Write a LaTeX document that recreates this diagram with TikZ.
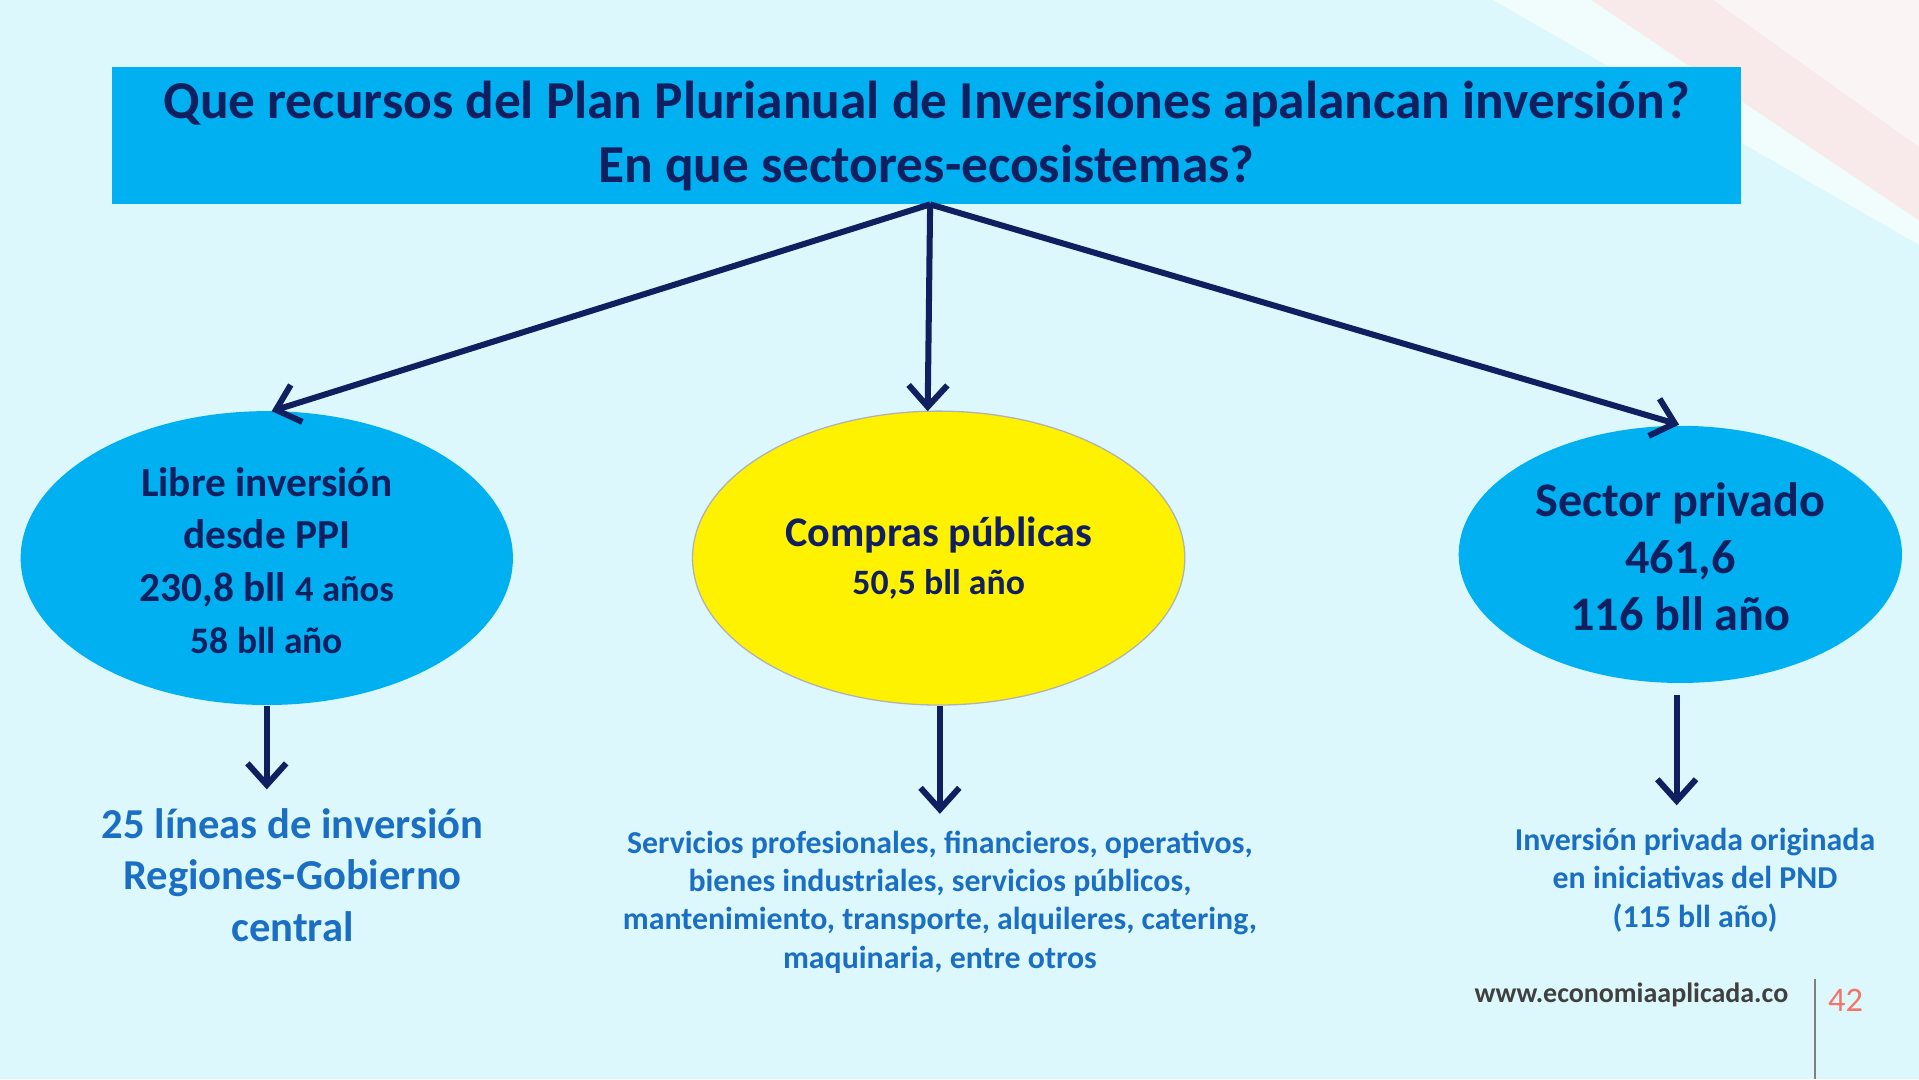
\documentclass[tikz,border=0pt]{standalone}
\usepackage{fontspec}
\setmainfont{Carlito}
\usetikzlibrary{arrows.meta,shapes.geometric}
\definecolor{bg}{HTML}{DDF8FC}
\definecolor{cyanbox}{HTML}{00B0F0}
\definecolor{navy}{HTML}{0F1F5F}
\definecolor{tblue}{HTML}{1A6FC4}
\definecolor{salmon}{HTML}{F4736B}
\begin{document}
\begin{tikzpicture}[x=0.01cm,y=-0.01cm,
  arr/.style={navy,line width=1.4pt,-{Straight Barb[length=5pt,width=9pt,line width=1.4pt]}},
  ell/.style={ellipse,draw=none,fill=cyanbox,inner sep=0pt},
  lab/.style={align=center,font=\bfseries,text=navy},
  sub/.style={align=center,font=\bfseries,text=tblue}]
\fill[bg] (0,0) rectangle (1568,882);
\useasboundingbox (0,0) rectangle (1568,882);
% decorative corner
\fill[white,opacity=0.6] (1220,0) -- (1568,0) -- (1568,200) -- cycle;
\fill[red!15,opacity=0.5] (1300,0) -- (1568,0) -- (1568,180) -- cycle;
\fill[white,opacity=0.5] (1400,0) -- (1568,0) -- (1568,120) -- cycle;
% title
\node[fill=cyanbox,minimum width=13.3cm,minimum height=1.12cm,inner sep=0pt] (title) at (757,111) {};
\node[lab,font=\bfseries\fontsize{12.4}{14.8}\selectfont] (ttext) at (757,111) {Que recursos del Plan Plurianual de Inversiones apalancan inversión?\\En que sectores-ecosistemas?};
\coordinate (src) at (760,167);
% ellipses
\node[ell,minimum width=4.02cm,minimum height=2.4cm] (e1) at (218,456) {};
\node[ell,fill=yellow,draw=gray!60,line width=0.3pt,minimum width=4.02cm,minimum height=2.4cm] (e2) at (767,456) {};
\node[ell,minimum width=3.62cm,minimum height=2.1cm] (e3) at (1373,453) {};
\node[lab,font=\bfseries\fontsize{9.6}{12.2}\selectfont] (t1) at (218,458) {Libre inversión\\desde PPI\\230,8 bll {\fontsize{8.5}{9}\selectfont 4 años}\\{\fontsize{8.7}{9}\selectfont 58 bll año}};
\node[lab,font=\bfseries\fontsize{9.8}{11}\selectfont] (t2) at (767,456) {Compras públicas\\{\fontsize{8.3}{10}\selectfont 50,5 bll año}};
\node[lab,font=\bfseries\fontsize{11.2}{13.2}\selectfont] (t3) at (1373,455) {Sector privado\\461,6\\116 bll año};
\coordinate (a1) at (222,336); \coordinate (a2) at (758,336); \coordinate (a3) at (1372,347);
\draw[arr] (src) -- (a1);
\draw[arr] (src) -- (a2);
\draw[arr] (src) -- (a3);
% lower
\node[sub,font=\bfseries\fontsize{9.9}{12}\selectfont] (b1) at (239,715) {25 líneas de inversión\\Regiones-Gobierno\\central};
\node[sub,font=\bfseries\fontsize{7.4}{8.9}\selectfont] (b2) at (768,737) {Servicios profesionales, financieros, operativos,\\bienes industriales, servicios públicos,\\mantenimiento, transporte, alquileres, catering,\\maquinaria, entre otros};
\node[sub,font=\bfseries\fontsize{7.4}{8.9}\selectfont] (b3) at (1385,719) {Inversión privada originada\\en iniciativas del PND\\(115 bll año)};
\coordinate (d1s) at (218,577); \coordinate (d1e) at (218,645);
\coordinate (d2s) at (768,577); \coordinate (d2e) at (768,665);
\coordinate (d3s) at (1370,568); \coordinate (d3e) at (1370,658);
\draw[arr] (d1s) -- (d1e);
\draw[arr] (d2s) -- (d2e);
\draw[arr] (d3s) -- (d3e);
% footer
\node[font=\bfseries\fontsize{6.5}{7}\selectfont,text=black!75] (url) at (1333,813) {www.economiaaplicada.co};
\node[font=\fontsize{8}{9}\selectfont,text=salmon] (num) at (1508,817) {42};
\coordinate (v1) at (1483,800); \coordinate (v2) at (1483,882);
\draw[gray,line width=0.4pt] (v1) -- (v2);
\end{tikzpicture}
\end{document}
